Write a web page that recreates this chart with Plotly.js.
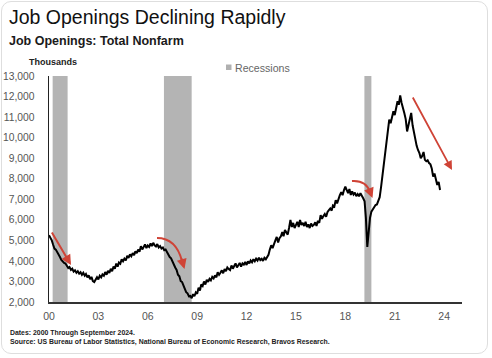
<!DOCTYPE html>
<html>
<head>
<meta charset="utf-8">
<script src="https://cdn.plot.ly/plotly-3.0.1.min.js"></script>
<style>
  html, body { margin: 0; padding: 0; background: #fff; }
  #wrap { position: relative; width: 492px; height: 358px; }
  #chart { width: 492px; height: 358px; }
  #card { position: absolute; left: 1px; top: 1px; width: 485px; height: 351px;
          border: 1px solid #dedede; border-radius: 10px; pointer-events: none; }
</style>
</head>
<body>
<div id="wrap"><div id="chart"></div><div id="card"></div></div>
<script>
// ---- Data (thousands), monthly from Dec 2000 through Sep 2024 ----
const firstMonth = { year: 2000, month: 12 };
const openings = [
  5250,                                                                  // 2000 Dec
  5150, 5000, 4800, 4600, 4550, 4400, 4300, 4190, 4050, 3950, 3900, 3870, // 2001
  3780, 3650, 3700, 3560, 3620, 3480, 3540, 3420, 3500, 3380, 3450, 3320, // 2002
  3420, 3280, 3360, 3200, 3300, 3110, 3220, 3020, 2970, 3120, 3210, 3100, // 2003
  3280, 3200, 3340, 3280, 3460, 3330, 3520, 3420, 3620, 3500, 3720, 3620, // 2004
  3870, 3720, 3920, 3860, 4080, 3980, 4110, 4020, 4250, 4150, 4320, 4230, // 2005
  4380, 4280, 4470, 4380, 4550, 4450, 4720, 4560, 4680, 4800, 4620, 4750, // 2006
  4680, 4850, 4720, 4880, 4760, 4700, 4820, 4650, 4720, 4600, 4650, 4520, // 2007
  4550, 4420, 4350, 4190, 4130, 3950, 3850, 3680, 3560, 3330, 3250, 3020, // 2008
  2970, 2800, 2700, 2480, 2420, 2280, 2300, 2180, 2380, 2280, 2470, 2400, // 2009
  2700, 2560, 2850, 2780, 3000, 2850, 3080, 2980, 3130, 3050, 3220, 3150, // 2010
  3300, 3200, 3450, 3320, 3420, 3540, 3400, 3600, 3500, 3680, 3600, 3550, // 2011
  3780, 3620, 3750, 3880, 3680, 3820, 3900, 3720, 3880, 3820, 3950, 3800, // 2012
  3980, 3880, 4020, 3930, 4080, 3980, 4110, 4020, 4160, 4040, 4100, 4000, // 2013
  4150, 4080, 4220, 4300, 4550, 4760, 4620, 4850, 5000, 5170, 4900, 5100, // 2014
  5200, 5400, 5200, 5500, 5350, 5280, 5600, 5990, 5650, 5850, 5600, 5780, // 2015
  5900, 5650, 5990, 5750, 5850, 5700, 5900, 5650, 5780, 5600, 5820, 5700, // 2016
  5750, 5880, 5700, 5950, 5850, 6230, 6050, 6180, 6280, 6150, 6380, 6470, // 2017
  6550, 6450, 6700, 6650, 6960, 6800, 7050, 7200, 7350, 7200, 7450, 7610, // 2018
  7450, 7300, 7500, 7210, 7380, 7230, 7320, 7150, 7250, 7150, 7290, 7200, // 2019
  7050, 6900, 6100, 4680, 5500, 6100, 6400, 6500, 6600, 6720, 6750, 6960, // 2020
  7100, 7600, 8100, 8800, 9300, 9740, 10300, 10880, 10700, 11000, 11280, 11100, // 2021
  11500, 11770, 11600, 12050, 11700, 11500, 11200, 10900, 10300, 10600, 10880, 11200, // 2022
  10600, 10200, 9900, 9600, 9400, 9250, 9000, 9100, 9300, 8920, 8850, 8900, // 2023
  8760, 8700, 8500, 8100, 8250, 7940, 7700, 7850, 7450                    // 2024
];

const recessionStart = ['2001-02-20', '2007-11-25', '2020-01-28'];
const recessionEnd   = ['2002-01-18', '2009-08-01', '2020-07-01'];

const tickYears  = ['2000-12-01','2003-12-01','2006-12-01','2009-12-01','2012-12-01','2015-12-01','2018-12-01','2021-12-01','2024-12-01'];
const tickLabels = ['00','03','06','09','12','15','18','21','24'];
const yTicks = [2000,3000,4000,5000,6000,7000,8000,9000,10000,11000,12000,13000];

// month dates
const dates = openings.map((_, i) => {
  const d = new Date(Date.UTC(firstMonth.year, firstMonth.month - 1 + i, 1));
  return d.toISOString().slice(0, 10);
});

// ---- Layout helpers (pixel -> paper) ----
const W = 492, H = 358, ML = 49, MR = 30, MT = 76, MB = 56;
const PW = W - ML - MR, PH = H - MT - MB;
const px = x => (x - ML) / PW;
const py = y => (H - MB - y) / PH;

const FONT = 'Liberation Sans, Arial, Helvetica, sans-serif';
const RED = '#cf4336';

const shapes = recessionStart.map((s, i) => ({
  type: 'rect', xref: 'x', yref: 'paper', x0: s, x1: recessionEnd[i], y0: 0, y1: 1,
  fillcolor: '#b4b4b4', line: { width: 0 }, layer: 'below'
}));
// legend swatch
shapes.push({ type: 'rect', xref: 'paper', yref: 'paper',
  x0: px(226), x1: px(231.5), y0: py(70), y1: py(64.5),
  fillcolor: '#b0b0b0', line: { width: 0 } });
// curved arrows
function qpath(p0, c, p1) {
  return `M ${px(p0[0])},${py(p0[1])} Q ${px(c[0])},${py(c[1])} ${px(p1[0])},${py(p1[1])}`;
}
shapes.push({ type: 'path', xref: 'paper', yref: 'paper', path: qpath([157,238],[176,238],[182,261]),
  line: { color: RED, width: 2 } });
shapes.push({ type: 'path', xref: 'paper', yref: 'paper', path: qpath([352,181],[366,180],[370,192]),
  line: { color: RED, width: 2 } });

function txt(text, x, y, size, color, extra) {
  return Object.assign({ text, xref: 'paper', yref: 'paper', x: px(x), y: py(y),
    xanchor: 'left', yanchor: 'middle', showarrow: false,
    font: { family: FONT, size, color } }, extra || {});
}
function arrow(hx, hy, tx, ty, w) {
  return { text: '', xref: 'paper', yref: 'paper', x: px(hx), y: py(hy),
    ax: tx - hx, ay: ty - hy, showarrow: true, arrowhead: 2, arrowsize: 1,
    arrowwidth: w || 2, arrowcolor: RED, standoff: 0, startstandoff: 0 };
}

const annotations = [
  txt('Job Openings Declining Rapidly', 7, 16.5, 19.5, '#111'),
  txt('<b>Job Openings: Total Nonfarm</b>', 7, 41, 12.5, '#1a1a1a'),
  txt('<b>Thousands</b>', 27, 62.5, 9, '#222'),
  txt('Recessions', 232.5, 67.5, 10.6, '#666'),
  txt('<b>Dates: 2000 Through September 2024.</b>', 8, 332.5, 6.9, '#222'),
  txt('<b>Source: US Bureau of Labor Statistics, National Bureau of Economic Research, Bravos Research.</b>', 8, 341.7, 6.9, '#222'),
  arrow(71, 265, 51, 231, 2),
  arrow(184.5, 269, 181, 257, 2),
  arrow(372.5, 198, 369, 189, 2),
  arrow(452, 170, 412, 96, 1.8)
];

const trace = {
  type: 'scatter', mode: 'lines', x: dates, y: openings,
  line: { color: '#000', width: 2 }, hoverinfo: 'x+y', showlegend: false
};

const layout = {
  width: W, height: H,
  margin: { l: ML, r: MR, t: MT, b: MB, pad: 0 },
  paper_bgcolor: '#fff', plot_bgcolor: '#fff',
  showlegend: false,
  font: { family: FONT, color: '#555' },
  xaxis: {
    type: 'date', range: ['2000-12-01', '2026-01-01'],
    tickmode: 'array', tickvals: tickYears, ticktext: tickLabels,
    showgrid: false, zeroline: false, showline: true, linecolor: '#333', linewidth: 1.5,
    ticks: '', ticklabelstandoff: 4, tickfont: { family: FONT, size: 10.5, color: '#555' }
  },
  yaxis: {
    range: [2000, 13000], tickmode: 'array', tickvals: yTicks, tickformat: ',d',
    showgrid: false, zeroline: false, showline: true, linecolor: '#222', linewidth: 1.5,
    ticks: '', ticklabelstandoff: 11, tickfont: { family: FONT, size: 10.3, color: '#555' }
  },
  shapes, annotations
};

Plotly.newPlot('chart', [trace], layout, { displayModeBar: false, staticPlot: true });
</script>
</body>
</html>
